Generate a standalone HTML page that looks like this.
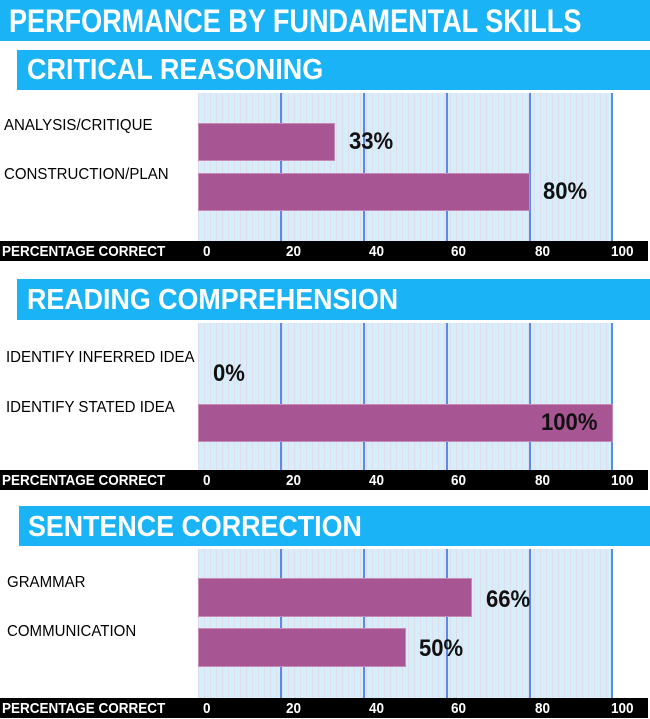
<!DOCTYPE html>
<html><head><style>
body{margin:0;width:650px;height:719px;background:#fff;position:relative;overflow:hidden;font-family:"Liberation Sans",Arial,sans-serif}
.bar{position:absolute;background:#1ab4f6}
.h{position:absolute;color:#fff;font-weight:bold;white-space:nowrap;transform-origin:0 0}
.chart{position:absolute;left:198px;width:415px;background-color:#d5effa;
background-image:repeating-linear-gradient(90deg,rgba(235,205,225,.55) 0 1px,transparent 1px 6px)}
.g{position:absolute;top:0;bottom:0;width:1.5px;background:#5b8be8}
.b{position:absolute;left:0;background:#a85693;border:1px solid #c58ab5;box-sizing:border-box}
.lab{position:absolute;font-size:16px;color:#000;white-space:nowrap;transform:scaleX(.94);transform-origin:0 0}
.pct{position:absolute;font-size:24px;font-weight:bold;color:#111;transform:scaleX(.92);transform-origin:0 0}
.ax{position:absolute;left:0;width:648px;height:20px;background:#000;color:#fff;font-weight:bold;font-size:15px}
.ax span{position:absolute;top:2px;white-space:nowrap;transform:scaleX(.9);transform-origin:0 0}
</style></head><body>
<div class="bar" style="left:0;top:0;width:650px;height:41px"></div>
<div class="h" style="left:9px;top:3px;font-size:32px;transform:scaleX(.845)">PERFORMANCE BY FUNDAMENTAL SKILLS</div>

<div class="bar" style="left:17px;top:50px;width:633px;height:40px"></div>
<div class="h" style="left:27px;top:54px;font-size:29px;transform:scaleX(.93)">CRITICAL REASONING</div>
<div class="chart" style="top:93px;height:148px">
<div class="g" style="left:82px"></div><div class="g" style="left:165px"></div><div class="g" style="left:248px"></div><div class="g" style="left:331px"></div><div class="g" style="left:413px"></div>
<div class="b" style="top:30px;height:38px;width:137px"></div>
<div class="b" style="top:80px;height:38px;width:332px"></div>
</div>
<div class="lab" style="left:4px;top:117px">ANALYSIS/CRITIQUE</div>
<div class="lab" style="left:4px;top:166px">CONSTRUCTION/PLAN</div>
<div class="pct" style="left:349px;top:128px">33%</div>
<div class="pct" style="left:543px;top:178px">80%</div>
<div class="ax" style="top:241px"><span style="left:2px">PERCENTAGE CORRECT</span><span style="left:203px">0</span><span style="left:286px">20</span><span style="left:369px">40</span><span style="left:451px">60</span><span style="left:535px">80</span><span style="left:611px">100</span></div>

<div class="bar" style="left:17px;top:279px;width:633px;height:41px"></div>
<div class="h" style="left:27px;top:284px;font-size:29px;transform:scaleX(.925)">READING COMPREHENSION</div>
<div class="chart" style="top:323px;height:148px">
<div class="g" style="left:82px"></div><div class="g" style="left:165px"></div><div class="g" style="left:248px"></div><div class="g" style="left:331px"></div><div class="g" style="left:413px"></div>
<div class="b" style="top:81px;height:38px;width:415px"></div>
</div>
<div class="lab" style="left:6px;top:349px">IDENTIFY INFERRED IDEA</div>
<div class="lab" style="left:6px;top:399px">IDENTIFY STATED IDEA</div>
<div class="pct" style="left:213px;top:360px">0%</div>
<div class="pct" style="left:541px;top:409px">100%</div>
<div class="ax" style="top:470px"><span style="left:2px">PERCENTAGE CORRECT</span><span style="left:203px">0</span><span style="left:286px">20</span><span style="left:369px">40</span><span style="left:451px">60</span><span style="left:535px">80</span><span style="left:611px">100</span></div>

<div class="bar" style="left:19px;top:506px;width:631px;height:40px"></div>
<div class="h" style="left:28px;top:511px;font-size:29px;transform:scaleX(.925)">SENTENCE CORRECTION</div>
<div class="chart" style="top:549px;height:149px">
<div class="g" style="left:82px"></div><div class="g" style="left:165px"></div><div class="g" style="left:248px"></div><div class="g" style="left:331px"></div><div class="g" style="left:413px"></div>
<div class="b" style="top:29px;height:39px;width:274px"></div>
<div class="b" style="top:79px;height:39px;width:208px"></div>
</div>
<div class="lab" style="left:7px;top:574px">GRAMMAR</div>
<div class="lab" style="left:7px;top:623px">COMMUNICATION</div>
<div class="pct" style="left:486px;top:586px">66%</div>
<div class="pct" style="left:419px;top:635px">50%</div>
<div class="ax" style="top:698px"><span style="left:2px">PERCENTAGE CORRECT</span><span style="left:203px">0</span><span style="left:286px">20</span><span style="left:369px">40</span><span style="left:451px">60</span><span style="left:535px">80</span><span style="left:611px">100</span></div>
</body></html>
